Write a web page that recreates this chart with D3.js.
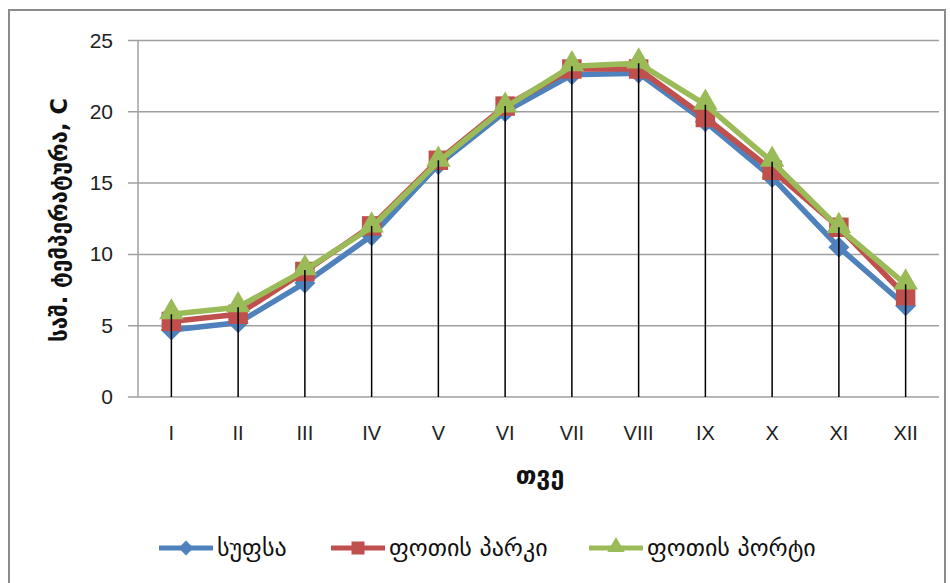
<!DOCTYPE html>
<html>
<head>
<meta charset="utf-8">
<script src="https://cdn.jsdelivr.net/npm/d3@7"></script>
<style>
  body { margin: 0; background: #fff; }
  svg { display: block; }
</style>
</head>
<body>
<div id="chart"></div>
<script>
// data
const months = ["I", "II", "III", "IV", "V", "VI", "VII", "VIII", "IX", "X", "XI", "XII"];
const supsa = [4.7, 5.2, 8.0, 11.3, 16.3, 20.0, 22.6, 22.7, 19.3, 15.4, 10.5, 6.4];
const potiPark = [5.3, 5.8, 8.8, 12.0, 16.6, 20.4, 23.0, 23.0, 19.6, 15.9, 11.9, 7.1];
const potiPort = [5.8, 6.3, 8.9, 11.9, 16.5, 20.3, 23.2, 23.4, 20.5, 16.5, 11.85, 7.9];
const seriesNames = ["სუფსა", "ფოთის პარკი", "ფოთის პორტი"];
const yTicks = [0, 5, 10, 15, 20, 25];

const W = 950, H = 583;
const colors = ["#4F81BD", "#C0504D", "#9BBB59"];
// diamond is drawn as a rotated square, like excel does
const shapes = [d3.symbolSquare, d3.symbolSquare, d3.symbolTriangle];
const rotate = [45, 0, 0];
const sizes = [220, 380, 260];
const legendSizes = [110, 170, 130];
const latinFont = "'Liberation Sans', Arial, sans-serif";
const geoFont = "'DejaVu Sans', sans-serif";

const svg = d3.select("#chart").append("svg")
    .attr("width", W)
    .attr("height", H);

// outer frame
svg.append("rect")
    .attr("x", 9).attr("y", 10)
    .attr("width", 936).attr("height", 590)
    .attr("fill", "#fff")
    .attr("stroke", "#8c8c8c")
    .attr("stroke-width", 2);

const x = d3.scaleBand().domain(months).range([138, 939]);
const y = d3.scaleLinear().domain([0, 25]).range([397, 40.5]);
const cx = (m) => x(m) + x.bandwidth() / 2;

// gridlines
svg.append("g")
    .selectAll("line")
    .data(yTicks)
    .enter().append("line")
    .attr("x1", 128).attr("x2", 939)
    .attr("y1", (d) => y(d)).attr("y2", (d) => y(d))
    .attr("stroke", "#a0a0a0")
    .attr("stroke-width", 1.5);

// y axis line
svg.append("line")
    .attr("x1", 138).attr("x2", 138)
    .attr("y1", y(25)).attr("y2", y(0))
    .attr("stroke", "#a0a0a0")
    .attr("stroke-width", 1.5);

// y tick labels
svg.append("g")
    .selectAll("text")
    .data(yTicks)
    .enter().append("text")
    .attr("x", 113)
    .attr("y", (d) => y(d) + 7)
    .attr("text-anchor", "end")
    .attr("font-family", latinFont)
    .attr("font-size", 21)
    .attr("fill", "#222")
    .text((d) => d);

// x tick labels
svg.append("g")
    .selectAll("text")
    .data(months)
    .enter().append("text")
    .attr("x", (d) => cx(d))
    .attr("y", 440)
    .attr("text-anchor", "middle")
    .attr("font-family", latinFont)
    .attr("font-size", 20)
    .attr("fill", "#222")
    .text((d) => d);

// series lines and markers
const allSeries = [supsa, potiPark, potiPort];
const line = d3.line()
    .x((d, i) => cx(months[i]))
    .y((d) => y(d));

allSeries.forEach((vals, s) => {
    svg.append("path")
        .datum(vals)
        .attr("d", line)
        .attr("fill", "none")
        .attr("stroke", colors[s])
        .attr("stroke-width", 5.5)
        .attr("stroke-linejoin", "round");

    svg.append("g")
        .selectAll("path")
        .data(vals)
        .enter().append("path")
        .attr("d", d3.symbol().type(shapes[s]).size(sizes[s]))
        .attr("transform", (d, i) => `translate(${cx(months[i])},${y(d) + (s === 2 ? -2 : 0)}) rotate(${rotate[s]})`)
        .attr("fill", colors[s]);
});

// drop lines from the highest point
const maxVals = months.map((m, i) => d3.max(allSeries, (v) => v[i]));
svg.append("g")
    .selectAll("line")
    .data(maxVals)
    .enter().append("line")
    .attr("x1", (d, i) => cx(months[i])).attr("x2", (d, i) => cx(months[i]))
    .attr("y1", (d) => y(d)).attr("y2", y(0))
    .attr("stroke", "#000")
    .attr("stroke-width", 1.5);

// axis titles
svg.append("text")
    .attr("transform", `translate(67,220) rotate(-90)`)
    .attr("text-anchor", "middle")
    .attr("font-family", geoFont)
    .attr("font-weight", "bold")
    .attr("font-size", 22.5)
    .attr("fill", "#111")
    .text("საშ. ტემპერატურა, C");

svg.append("text")
    .attr("x", 540)
    .attr("y", 484)
    .attr("text-anchor", "middle")
    .attr("font-family", geoFont)
    .attr("font-weight", "bold")
    .attr("font-size", 25)
    .attr("fill", "#111")
    .text("თვე");

// legend
const legendX = [159, 331, 589];
const legend = svg.append("g");
seriesNames.forEach((name, s) => {
    const lx = legendX[s];
    legend.append("line")
        .attr("x1", lx).attr("x2", lx + 54)
        .attr("y1", 548).attr("y2", 548)
        .attr("stroke", colors[s])
        .attr("stroke-width", 5);
    legend.append("path")
        .attr("d", d3.symbol().type(shapes[s]).size(legendSizes[s]))
        .attr("transform", `translate(${lx + 27},${548 + (s === 2 ? -1 : 0)}) rotate(${rotate[s]})`)
        .attr("fill", colors[s]);
    legend.append("text")
        .attr("x", lx + 58)
        .attr("y", 556)
        .attr("font-family", geoFont)
        .attr("font-size", 24)
        .attr("fill", "#111")
        .text(name);
});
</script>
</body>
</html>
